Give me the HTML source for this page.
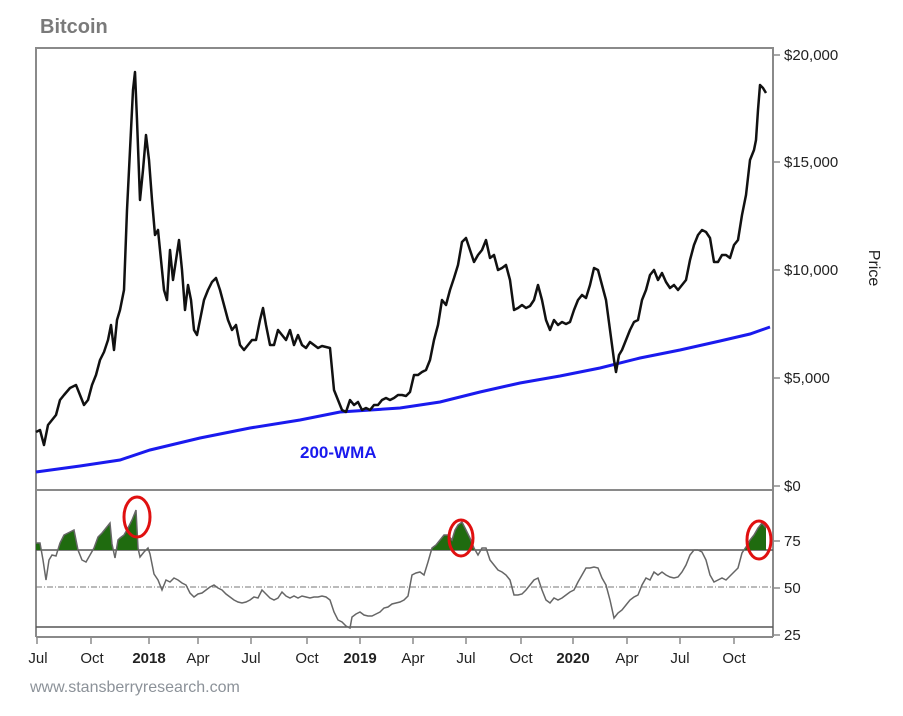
<!DOCTYPE html>
<html><head><meta charset="utf-8"><style>
body{margin:0;background:#fff;width:903px;height:711px;overflow:hidden}
svg text{font-family:"Liberation Sans",Arial,sans-serif}
</style></head><body>
<svg width="903" height="711" viewBox="0 0 903 711">
<defs><clipPath id="above"><rect x="36" y="490" width="737" height="60"/></clipPath></defs>
<text x="40" y="33" font-size="20" font-weight="bold" fill="#7a7a7a">Bitcoin</text>
<g stroke="#8a8a8a" stroke-width="2" fill="none">
<line x1="36" y1="48" x2="773" y2="48"/>
<line x1="36" y1="47" x2="36" y2="637"/>
<line x1="773" y1="47" x2="773" y2="637"/>
<line x1="36" y1="490" x2="773" y2="490"/>
<line x1="36" y1="637" x2="773" y2="637"/>
</g>
<g stroke="#555" stroke-width="1.5">
<line x1="36" y1="550" x2="773" y2="550"/>
<line x1="36" y1="627" x2="773" y2="627"/>
</g>
<line x1="36" y1="587" x2="773" y2="587" stroke="#777" stroke-width="1" stroke-dasharray="6,2,1,2"/>
<g stroke="#8a8a8a" stroke-width="1.5">
<line x1="773" y1="55" x2="780" y2="55"/><line x1="773" y1="162" x2="780" y2="162"/><line x1="773" y1="270" x2="780" y2="270"/><line x1="773" y1="378" x2="780" y2="378"/><line x1="773" y1="486" x2="780" y2="486"/>
<line x1="773" y1="541" x2="780" y2="541"/><line x1="773" y1="588" x2="780" y2="588"/><line x1="773" y1="635" x2="780" y2="635"/>
</g>
<g font-size="15" fill="#222">
<text x="784" y="60">$20,000</text><text x="784" y="167">$15,000</text><text x="784" y="275">$10,000</text><text x="784" y="383">$5,000</text><text x="784" y="491">$0</text>
<text x="784" y="546">75</text><text x="784" y="593">50</text><text x="784" y="640">25</text>
</g>
<text transform="translate(869,268) rotate(90)" font-size="16" fill="#222" text-anchor="middle">Price</text>
<g stroke="#8a8a8a" stroke-width="1.5">
<line x1="37" y1="637" x2="37" y2="644"/><line x1="91" y1="637" x2="91" y2="644"/><line x1="149" y1="637" x2="149" y2="644"/><line x1="198" y1="637" x2="198" y2="644"/><line x1="251" y1="637" x2="251" y2="644"/><line x1="307" y1="637" x2="307" y2="644"/><line x1="360" y1="637" x2="360" y2="644"/><line x1="413" y1="637" x2="413" y2="644"/><line x1="466" y1="637" x2="466" y2="644"/><line x1="521" y1="637" x2="521" y2="644"/><line x1="573" y1="637" x2="573" y2="644"/><line x1="627" y1="637" x2="627" y2="644"/><line x1="680" y1="637" x2="680" y2="644"/><line x1="734" y1="637" x2="734" y2="644"/>
</g>
<g font-size="15" fill="#222" text-anchor="middle">
<text x="38" y="663">Jul</text><text x="92" y="663">Oct</text><text x="149" y="663" font-weight="bold">2018</text><text x="198" y="663">Apr</text><text x="251" y="663">Jul</text><text x="307" y="663">Oct</text><text x="360" y="663" font-weight="bold">2019</text><text x="413" y="663">Apr</text><text x="466" y="663">Jul</text><text x="521" y="663">Oct</text><text x="573" y="663" font-weight="bold">2020</text><text x="627" y="663">Apr</text><text x="680" y="663">Jul</text><text x="734" y="663">Oct</text>
</g>
<text x="30" y="692" font-size="16" fill="#8c9299">www.stansberryresearch.com</text>
<polyline fill="none" stroke="#1a1aee" stroke-width="3" points="36,472 80,466 120,460 150,450 200,438 250,428 300,420 340,412 400,408 440,402 480,392 520,383 560,376 600,368 640,358 680,350 720,341 750,334 770,327"/>
<text x="300" y="458" font-size="17" font-weight="bold" fill="#1a1aee">200-WMA</text>
<polyline fill="none" stroke="#111" stroke-width="2.5" stroke-linejoin="round" points="36,432 40,430 44,445 48,425 52,420 56,415 60,400 64,395 70,388 76,385 80,395 84,405 88,400 92,385 96,375 100,360 104,352 108,340 111,325 114,350 117,320 120,310 124,290 127,210 130,150 133,90 135,72 137,120 140,200 143,170 146,135 149,160 152,200 155,235 158,230 161,260 164,290 167,300 170,250 173,280 176,260 179,240 182,270 185,310 188,285 191,300 194,330 197,335 200,320 204,300 208,290 212,282 216,278 220,290 224,305 228,320 232,330 236,325 240,345 244,350 248,345 252,340 256,340 260,320 263,308 266,325 270,345 274,345 278,330 282,335 286,340 290,330 294,345 298,335 302,345 306,348 310,342 314,345 318,348 322,346 326,347 330,348 334,390 338,400 342,410 346,412 350,400 354,405 358,402 362,410 366,408 370,410 374,405 378,405 382,400 386,398 390,400 394,398 398,395 402,395 406,396 410,392 414,375 418,375 422,372 426,370 430,360 434,340 438,325 442,300 446,305 450,290 454,278 458,265 462,242 466,238 470,250 474,262 478,255 482,250 486,240 490,258 494,255 498,270 502,268 506,265 510,280 514,310 518,308 522,305 526,308 530,306 534,300 538,285 542,300 546,320 550,330 554,320 558,325 562,322 566,324 570,322 574,310 578,300 582,295 586,298 590,285 594,268 598,270 602,285 606,300 610,330 614,360 616,372 619,355 622,350 626,340 630,330 634,322 638,320 642,300 646,290 650,275 654,270 658,280 662,273 666,282 670,288 674,285 678,290 682,285 686,280 690,260 694,245 698,235 702,230 706,232 710,238 714,262 718,262 722,255 726,255 730,258 734,245 738,240 742,215 746,195 750,160 754,150 756,140 758,110 760,85 763,88 766,93"/>
<polygon clip-path="url(#above)" fill="#1f6b0f" points="36,550 36,543 40,543 43,560 46,580 49,560 52,555 56,556 60,543 64,535 70,532 74,530 78,550 82,560 86,562 90,555 94,548 98,537 102,533 106,528 110,523 112,544 115,558 118,540 120,538 124,535 128,528 132,520 136,510 138,548 140,557 144,552 148,548 150,554 154,574 158,580 420,580 428,562 432,548 436,545 440,540 444,535 448,535 452,540 455,530 458,525 462,522 466,530 470,538 474,548 478,555 740,560 742,553 746,547 750,540 754,535 758,528 762,523 766,528 766,550"/>
<polyline fill="none" stroke="#666" stroke-width="1.5" points="36,543 40,543 43,560 46,580 49,560 52,555 56,556 60,543 64,535 70,532 74,530 78,550 82,560 86,562 90,555 94,548 98,537 102,533 106,528 110,523 112,544 115,558 118,540 120,538 124,535 128,528 132,520 136,510 138,548 140,557 144,552 148,548 150,554 154,574 158,580 162,590 166,580 170,582 174,578 178,580 182,583 186,585 190,593 194,597 198,594 202,593 206,590 210,587 214,585 218,588 222,590 226,594 230,597 234,600 238,602 242,603 246,602 250,600 254,597 258,598 262,590 266,594 270,598 274,600 278,598 282,592 286,596 290,598 294,596 298,598 302,596 306,597 310,598 314,597 318,597 322,596 326,597 330,600 334,612 338,620 342,622 346,626 350,628 352,617 356,614 360,612 364,615 368,616 372,616 376,614 380,612 384,608 388,607 392,604 396,603 400,602 404,600 408,596 412,575 416,573 420,572 424,575 428,562 432,548 436,545 440,540 444,535 448,535 452,540 455,530 458,525 462,522 466,530 470,538 474,548 478,555 482,548 486,548 490,560 494,565 498,570 502,572 506,575 510,580 514,595 518,595 522,594 526,590 530,585 534,580 538,578 542,590 546,600 550,603 554,598 558,600 562,598 566,595 570,592 574,590 578,582 582,575 586,568 590,568 594,567 598,568 602,578 606,585 610,600 614,618 618,613 622,610 626,605 630,600 634,597 638,595 642,585 646,578 650,580 654,572 658,575 662,572 666,575 670,577 674,578 678,577 682,572 686,565 690,555 694,550 698,550 702,552 706,560 710,575 714,582 718,580 722,578 726,580 730,576 734,572 738,568 742,553 746,547 750,540 754,535 758,528 762,523 766,528"/>
<g fill="none" stroke="#e01010" stroke-width="3">
<ellipse cx="137" cy="517" rx="13" ry="20"/>
<ellipse cx="461" cy="538" rx="12" ry="18"/>
<ellipse cx="759" cy="540" rx="12" ry="19"/>
</g>
</svg>
</body></html>
